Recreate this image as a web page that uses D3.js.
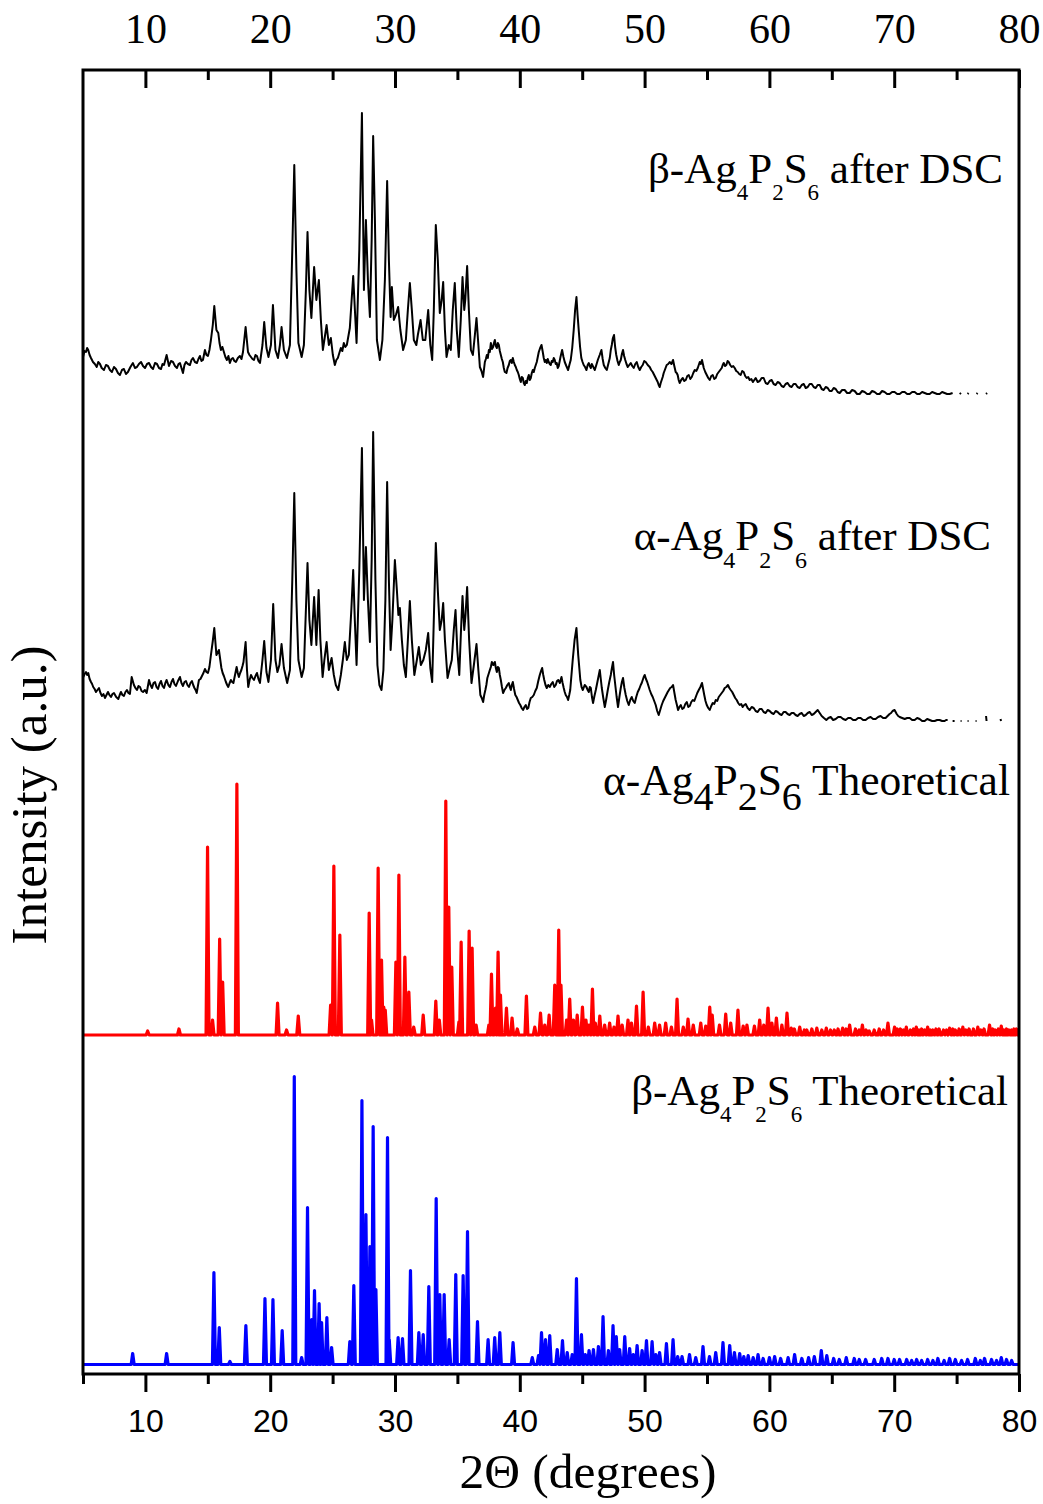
<!DOCTYPE html>
<html>
<head>
<meta charset="utf-8">
<script src="https://cdn.jsdelivr.net/npm/d3@7"></script>
<style>
  body { margin: 0; background: #fff; }
  svg { display: block; }
</style>
</head>
<body>
<svg id="chart" width="1043" height="1504"></svg>
<script>
// ---- axis ticks ----
const majorTicks = [10, 20, 30, 40, 50, 60, 70, 80];
const minorTicks = [5, 15, 25, 35, 45, 55, 65, 75];

// vertical offset (a.u.) that stacks each pattern
const stackOffsets = { betaTheo: 9.5, alphaTheo: 339, alphaDsc: 649, betaDsc: 979 };

// ---- measured pattern: beta-Ag4P2S6 after DSC  [2theta, intensity]  (null = no data) ----
const betaDsc = [
[5.00,38],[5.12,44],[5.24,43],[5.33,47],[5.42,45],[5.53,40],[5.64,37],[5.72,35],[5.80,33],[5.95,31],[6.10,28],[6.22,33],[6.36,31],[6.50,27],[6.68,25],[6.84,30],[7.00,29],[7.16,25],[7.32,23],[7.48,28],[7.64,26],[7.80,22],[7.96,20],[8.12,25],[8.28,26],[8.44,21],[8.60,23],[8.80,28],[9.00,32],[9.16,27],[9.32,28],[9.48,31],[9.65,33],[9.81,29],[9.97,27],[10.13,31],[10.29,32],[10.45,28],[10.61,26],[10.77,32],[10.93,31],[11.09,27],[11.25,26],[11.37,31],[11.49,30],[11.70,40],[11.89,29],[12.05,34],[12.21,33],[12.37,29],[12.53,27],[12.65,31],[12.77,32],[13.01,22],[13.13,30],[13.25,33],[13.41,31],[13.57,30],[13.69,35],[13.81,37],[13.97,33],[14.13,32],[14.25,36],[14.37,39],[14.49,34],[14.61,35],[14.77,45],[14.89,40],[15.01,39],[15.13,45],[15.25,55],[15.40,70],[15.52,89],[15.69,65],[15.84,62],[15.94,52],[16.05,45],[16.17,48],[16.29,43],[16.41,38],[16.53,35],[16.65,39],[16.77,32],[16.89,36],[17.01,37],[17.13,34],[17.25,33],[17.41,37],[17.57,39],[17.70,36],[17.82,43],[18.03,68],[18.22,43],[18.34,40],[18.46,38],[18.58,36],[18.70,35],[18.82,40],[18.94,39],[19.06,34],[19.18,32],[19.38,50],[19.52,73],[19.70,47],[19.86,38],[20.06,50],[20.22,90],[20.42,45],[20.62,37],[20.78,50],[20.91,68],[21.10,45],[21.34,37],[21.58,50],[21.77,145],[21.93,230],[22.10,125],[22.26,52],[22.52,38],[22.70,50],[22.86,105],[22.99,163],[23.14,105],[23.30,77],[23.52,128],[23.70,95],[23.90,115],[24.06,75],[24.22,45],[24.52,70],[24.70,50],[24.86,57],[25.02,40],[25.18,30],[25.30,35],[25.42,37],[25.54,42],[25.66,47],[25.78,44],[25.90,52],[26.02,48],[26.14,50],[26.38,67],[26.65,119],[26.92,52],[27.14,145],[27.35,282],[27.51,105],[27.67,175],[27.83,115],[27.99,78],[28.13,155],[28.25,259],[28.39,175],[28.55,55],[28.79,35],[28.99,55],[29.19,115],[29.37,214],[29.51,135],[29.65,78],[29.75,108],[29.91,75],[30.07,80],[30.25,88],[30.43,65],[30.65,45],[30.87,55],[31.03,85],[31.19,112],[31.35,85],[31.51,55],[31.71,50],[31.83,60],[32.05,75],[32.23,55],[32.43,55],[32.66,85],[32.83,50],[32.98,35],[33.11,85],[33.27,170],[33.43,135],[33.59,82],[33.74,95],[33.86,113],[34.00,65],[34.13,38],[34.31,50],[34.47,45],[34.63,85],[34.79,112],[34.95,65],[35.11,38],[35.27,75],[35.41,118],[35.55,85],[35.63,95],[35.78,129],[35.92,85],[36.08,45],[36.24,40],[36.40,60],[36.53,77],[36.68,50],[36.80,28],[36.93,24],[37.06,18],[37.20,33],[37.28,36],[37.36,40],[37.44,37],[37.52,45],[37.60,43],[37.68,52],[37.77,46],[37.86,48],[37.93,52],[38.00,55],[38.08,49],[38.16,47],[38.24,52],[38.32,50],[38.40,44],[38.48,40],[38.56,36],[38.64,33],[38.72,27],[38.80,23],[38.93,22],[39.02,27],[39.12,30],[39.20,34],[39.28,35],[39.36,32],[39.44,37],[39.52,33],[39.60,30],[39.68,28],[39.76,25],[39.84,23],[39.92,20],[40.00,16],[40.08,13],[40.16,18],[40.24,17],[40.32,12],[40.40,10],[40.48,14],[40.56,12],[40.64,17],[40.72,20],[40.80,15],[40.88,17],[40.96,22],[41.04,25],[41.12,23],[41.20,27],[41.28,30],[41.36,33],[41.44,38],[41.52,43],[41.63,47],[41.74,50],[41.84,43],[41.92,37],[42.00,33],[42.08,35],[42.16,32],[42.24,36],[42.32,33],[42.40,31],[42.48,30],[42.56,34],[42.64,33],[42.72,37],[42.80,35],[42.88,31],[42.96,32],[43.04,27],[43.12,29],[43.26,38],[43.39,45],[43.50,38],[43.60,33],[43.73,29],[43.87,25],[43.97,30],[44.08,35],[44.20,47],[44.32,65],[44.43,85],[44.54,98],[44.63,80],[44.72,65],[44.83,48],[44.93,37],[45.03,33],[45.12,30],[45.23,28],[45.34,25],[45.44,30],[45.53,32],[45.61,29],[45.69,27],[45.77,31],[45.85,29],[45.93,27],[46.01,25],[46.13,30],[46.25,35],[46.40,40],[46.54,45],[46.64,36],[46.73,30],[46.85,27],[46.97,25],[47.09,31],[47.21,37],[47.29,45],[47.37,50],[47.46,57],[47.55,60],[47.64,48],[47.73,40],[47.83,34],[47.93,30],[48.01,33],[48.09,35],[48.18,41],[48.27,45],[48.36,39],[48.45,35],[48.55,31],[48.65,28],[48.77,30],[48.89,32],[49.01,29],[49.13,27],[49.25,31],[49.37,33],[49.49,28],[49.61,25],[49.73,28],[49.85,30],[49.97,34],[50.09,33],[50.25,30],[50.41,28],[50.53,25],[50.65,23],[50.77,20],[50.89,17],[50.97,15],[51.05,13],[51.13,10],[51.21,8],[51.29,12],[51.37,15],[51.45,18],[51.53,22],[51.65,26],[51.77,30],[51.89,31],[52.01,33],[52.15,31],[52.28,35],[52.38,29],[52.49,23],[52.57,22],[52.65,20],[52.73,15],[52.81,12],[52.93,15],[53.06,17],[53.18,14],[53.30,15],[53.42,19],[53.54,20],[53.66,16],[53.78,18],[53.90,22],[54.02,25],[54.14,24],[54.26,27],[54.34,30],[54.42,33],[54.51,31],[54.60,35],[54.67,31],[54.74,27],[54.86,23],[54.98,20],[55.10,17],[55.22,15],[55.34,19],[55.46,20],[55.58,16],[55.70,17],[55.82,21],[55.94,23],[56.06,25],[56.18,27],[56.26,30],[56.34,32],[56.45,29],[56.55,30],[56.65,34],[56.74,33],[56.86,30],[56.98,28],[57.10,29],[57.22,27],[57.34,24],[57.46,23],[57.58,21],[57.70,20],[57.82,24],[57.94,23],[58.06,19],[58.18,17],[58.30,18],[58.42,15],[58.55,16],[58.68,13],[58.79,15],[58.90,17],[59.06,13],[59.22,14],[59.38,17],[59.54,17],[59.70,12],[59.86,11],[60.02,14],[60.18,15],[60.34,11],[60.50,10],[60.66,13],[60.82,12],[60.98,9],[61.14,8],[61.30,11],[61.46,12],[61.62,9],[61.78,8],[61.94,11],[62.10,11],[62.26,8],[62.43,7],[62.59,10],[62.75,11],[62.91,7],[63.07,8],[63.23,11],[63.39,11],[63.55,8],[63.71,7],[63.87,10],[64.03,10],[64.19,6],[64.35,5],[64.51,8],[64.67,7],[64.83,4],[64.99,4],[65.15,7],[65.31,6],[65.47,3],[65.63,2],[65.83,5],[66.03,5],[66.23,2],[66.43,2],[66.63,5],[66.83,4],[67.03,1],[67.23,1],[67.43,4],[67.63,3],[67.83,1],[68.03,1],[68.23,4],[68.43,3],[68.63,1],[68.83,1],[69.03,4],[69.23,3],[69.43,1],[69.63,1],[69.83,3],[70.03,3],[70.24,1],[70.44,1],[70.64,3],[70.84,3],[71.04,1],[71.24,1],[71.44,3],[71.64,3],[71.84,1],[72.04,1],[72.24,3],[72.44,2],[72.64,1],[72.84,1],[73.04,3],[73.24,2],[73.44,1],[73.64,1],[73.84,3],[74.04,2],[74.24,1],[74.44,1],[74.68,2],
[74.9,null],[75.24,1],[75.36,2],[75.5,null],[75.88,1],[75.96,2],[76.2,null],[76.60,1],[76.68,2],[77.0,null],[77.36,1],[77.44,2]
];

// ---- measured pattern: alpha-Ag4P2S6 after DSC ----
const alphaDsc = [
[5.02,48],[5.13,51],[5.24,53],[5.33,50],[5.42,52],[5.53,46],[5.64,43],[5.73,41],[5.82,38],[5.93,36],[6.04,33],[6.16,35],[6.28,37],[6.40,32],[6.52,29],[6.64,31],[6.76,27],[6.88,30],[7.00,33],[7.12,30],[7.24,28],[7.36,31],[7.48,32],[7.66,28],[7.83,26],[7.94,30],[8.04,33],[8.16,30],[8.28,29],[8.40,33],[8.52,35],[8.64,32],[8.76,31],[8.90,48],[9.08,40],[9.20,37],[9.32,35],[9.45,39],[9.57,38],[9.69,34],[9.81,33],[9.96,35],[10.10,32],[10.29,45],[10.41,40],[10.53,37],[10.65,42],[10.77,43],[10.89,38],[11.01,36],[11.13,41],[11.25,44],[11.37,39],[11.49,37],[11.60,42],[11.70,45],[11.84,40],[11.97,38],[12.09,43],[12.21,46],[12.33,41],[12.45,39],[12.61,44],[12.77,48],[12.89,42],[13.01,39],[13.13,43],[13.25,44],[13.37,40],[13.49,38],[13.61,42],[13.73,44],[13.83,40],[13.93,37],[14.02,35],[14.11,32],[14.29,45],[14.41,46],[14.53,49],[14.65,52],[14.77,56],[14.89,53],[15.01,52],[15.13,58],[15.25,70],[15.40,84],[15.52,97],[15.69,70],[15.89,75],[16.09,57],[16.19,52],[16.29,49],[16.37,46],[16.45,43],[16.55,40],[16.64,38],[16.75,42],[16.85,45],[16.95,43],[17.05,42],[17.18,50],[17.31,58],[17.40,52],[17.49,48],[17.59,52],[17.69,55],[17.78,59],[17.86,63],[18.03,83],[18.14,55],[18.24,38],[18.35,45],[18.46,50],[18.58,47],[18.70,45],[18.82,49],[18.94,52],[19.06,46],[19.18,42],[19.38,65],[19.52,84],[19.70,53],[19.86,43],[20.06,65],[20.24,121],[20.42,65],[20.58,53],[20.74,60],[20.91,81],[21.10,57],[21.36,42],[21.58,55],[21.77,145],[21.93,232],[22.10,125],[22.26,65],[22.52,48],[22.70,57],[22.86,115],[22.99,162],[23.14,105],[23.30,80],[23.52,128],[23.70,80],[23.88,135],[24.02,85],[24.20,48],[24.34,65],[24.52,83],[24.70,55],[24.92,67],[25.10,50],[25.26,40],[25.45,35],[25.66,50],[25.82,65],[25.98,83],[26.14,65],[26.30,70],[26.50,115],[26.65,155],[26.78,105],[26.92,60],[27.14,155],[27.35,277],[27.51,125],[27.67,178],[27.83,125],[27.99,83],[28.13,165],[28.25,293],[28.43,145],[28.59,60],[28.75,40],[28.92,35],[29.07,55],[29.23,125],[29.37,243],[29.51,145],[29.65,75],[29.79,105],[29.99,165],[30.15,135],[30.27,110],[30.39,117],[30.55,85],[30.71,60],[30.87,48],[31.03,85],[31.19,124],[31.35,85],[31.55,50],[31.75,65],[31.91,78],[32.07,60],[32.27,65],[32.47,75],[32.66,92],[32.83,57],[32.98,43],[33.13,115],[33.27,182],[33.43,135],[33.59,95],[33.74,105],[33.86,122],[34.00,85],[34.21,47],[34.39,57],[34.55,65],[34.71,95],[34.85,115],[34.99,75],[35.15,50],[35.29,95],[35.41,129],[35.55,95],[35.65,110],[35.78,138],[35.94,85],[36.13,42],[36.32,60],[36.53,81],[36.68,55],[36.84,30],[36.95,27],[37.06,23],[37.15,30],[37.24,35],[37.32,40],[37.40,47],[37.50,51],[37.60,55],[37.68,58],[37.76,63],[37.88,60],[38.00,63],[38.08,57],[38.16,53],[38.24,58],[38.32,57],[38.40,50],[38.48,45],[38.57,38],[38.66,32],[38.77,35],[38.88,37],[39.00,40],[39.12,42],[39.20,38],[39.28,35],[39.36,40],[39.44,43],[39.54,36],[39.64,30],[39.74,28],[39.84,25],[39.94,22],[40.04,20],[40.15,17],[40.26,15],[40.37,18],[40.48,20],[40.58,16],[40.68,17],[40.78,23],[40.88,27],[41.00,28],[41.12,30],[41.24,34],[41.36,37],[41.48,44],[41.60,50],[41.70,54],[41.79,57],[41.88,50],[41.96,45],[42.06,40],[42.16,37],[42.28,40],[42.40,38],[42.52,41],[42.64,43],[42.76,38],[42.88,40],[42.98,44],[43.08,45],[43.21,42],[43.34,48],[43.43,42],[43.52,37],[43.60,33],[43.68,30],[43.78,28],[43.87,25],[43.96,30],[44.04,35],[44.14,50],[44.24,65],[44.39,85],[44.54,97],[44.68,70],[44.85,45],[44.95,38],[45.05,35],[45.20,40],[45.34,38],[45.44,35],[45.53,33],[45.61,38],[45.69,37],[45.78,28],[45.87,22],[45.98,29],[46.09,35],[46.17,40],[46.25,45],[46.33,50],[46.41,55],[46.49,46],[46.57,37],[46.69,27],[46.81,18],[46.93,26],[47.05,35],[47.17,43],[47.29,50],[47.38,57],[47.47,63],[47.56,50],[47.65,40],[47.76,28],[47.87,18],[47.98,28],[48.09,37],[48.18,43],[48.27,47],[48.38,37],[48.49,30],[48.61,24],[48.73,20],[48.85,25],[48.97,28],[49.09,24],[49.21,22],[49.33,28],[49.45,33],[49.57,36],[49.69,40],[49.77,42],[49.85,45],[49.93,48],[50.01,50],[50.11,46],[50.21,43],[50.31,39],[50.41,35],[50.53,31],[50.65,28],[50.77,24],[50.89,20],[51.01,14],[51.13,10],[51.25,15],[51.37,20],[51.49,24],[51.61,27],[51.73,30],[51.85,33],[51.95,35],[52.05,37],[52.17,38],[52.28,40],[52.39,32],[52.49,25],[52.59,20],[52.68,15],[52.79,18],[52.90,20],[53.02,16],[53.14,17],[53.26,21],[53.38,23],[53.50,18],[53.62,19],[53.74,23],[53.86,25],[53.98,24],[54.10,28],[54.22,32],[54.34,35],[54.47,38],[54.60,42],[54.69,36],[54.78,30],[54.88,24],[54.98,20],[55.10,17],[55.22,15],[55.34,19],[55.46,22],[55.58,21],[55.70,25],[55.82,24],[55.94,28],[56.06,30],[56.18,32],[56.30,34],[56.42,37],[56.55,38],[56.68,40],[56.79,37],[56.90,35],[57.02,33],[57.14,30],[57.26,27],[57.38,25],[57.50,22],[57.62,20],[57.74,21],[57.86,18],[57.98,20],[58.10,21],[58.26,17],[58.42,15],[58.58,18],[58.74,17],[58.90,14],[59.06,13],[59.22,16],[59.38,16],[59.54,13],[59.70,12],[59.86,15],[60.02,14],[60.18,12],[60.34,11],[60.50,14],[60.66,13],[60.82,11],[60.98,10],[61.14,13],[61.30,13],[61.46,11],[61.62,10],[61.78,12],[61.94,12],[62.10,10],[62.26,9],[62.42,11],[62.59,12],[62.75,9],[62.91,10],[63.07,12],[63.23,13],[63.39,10],[63.55,11],[63.71,13],[63.87,15],[64.03,12],[64.19,9],[64.37,7],[64.56,5],[64.73,7],[64.91,8],[65.11,5],[65.31,6],[65.51,8],[65.71,8],[65.91,6],[66.11,5],[66.31,7],[66.51,7],[66.71,5],[66.91,5],[67.11,7],[67.31,7],[67.51,5],[67.71,5],[67.91,7],[68.11,8],[68.31,6],[68.51,6],[68.71,8],[68.91,9],[69.11,7],[69.31,7],[69.47,9],[69.63,11],[69.75,12],[69.87,14],[70.03,15],[70.20,11],[70.32,9],[70.44,8],[70.64,7],[70.84,6],[71.04,7],[71.24,7],[71.44,5],[71.64,5],[71.84,7],[72.04,6],[72.24,4],[72.44,4],[72.64,6],[72.84,5],[73.04,4],[73.24,4],[73.44,5],[73.64,5],[73.84,4],[74.04,4],[74.16,5],[74.28,5],
[74.5,null],[74.68,4],[74.84,4],[75.1,null],[75.32,4],[75.40,4],[75.6,null],[75.88,4],[75.96,4],[76.3,null],[76.52,4],[76.60,4],[77.0,null],[77.36,9],[77.40,4],[78.0,null],[78.52,6],[78.56,4]
];

// ---- calculated pattern: alpha-Ag4P2S6, reflections [2theta, intensity] ----
const alphaTheoPeaks = [
[10.18,4],[12.69,6],[14.98,188],[15.38,15],[15.95,96],[16.19,53],[17.33,251],[20.59,32],[21.31,5],[22.25,19],[24.84,30],[25.10,169],[25.58,100],[27.93,122],[28.12,15],[28.65,167],[28.92,75],[29.10,28],[29.22,25],[30.07,73],[30.31,160],[30.79,78],[31.11,43],[31.50,8],[32.26,20],[33.27,34],[33.55,15],[34.07,234],[34.31,128],[34.55,68],[35.12,13],[35.30,93],[35.94,104],[36.18,87],[36.50,10],[37.52,10],[37.73,61],[38.05,27],[38.26,83],[38.45,40],[38.93,27],[39.38,17],[39.80,6],[40.53,39],[41.20,8],[41.66,22],[42.00,10],[42.35,20],[42.80,50],[43.12,105],[43.30,50],[43.75,15],[44.00,36],[44.30,15],[44.60,20],[45.02,28],[45.30,15],[45.55,10],[45.82,46],[46.05,12],[46.41,19],[46.80,10],[47.20,12],[47.55,8],[47.87,19],[48.20,10],[48.67,15],[48.95,12],[49.35,29],[49.88,43],[50.30,8],[50.81,12],[51.20,10],[51.69,12],[52.15,8],[52.60,36],[53.10,8],[53.48,16],[53.90,10],[54.50,12],[54.90,9],[55.22,28],[55.42,20],[56.00,10],[56.50,21],[56.90,12],[57.48,25],[57.90,9],[58.20,10],[58.80,9],[59.22,15],[59.55,10],[59.89,27],[60.20,12],[60.56,17],[61.00,10],[61.41,22],[61.75,7],[62.00,6],[62.43,8],[62.80,5],[63.00,5],[63.40,6],[63.80,7],[64.20,5],[64.56,7],[64.90,5],[65.20,5],[65.50,6],[65.87,7],[66.15,6],[66.43,10],[66.90,6],[67.20,5],[67.45,10],[67.75,5],[68.00,4],[68.40,5],[68.80,6],[69.15,5],[69.50,12],[70.03,8],[70.25,6],[70.50,6],[70.75,5],[70.97,8],[71.30,5],[71.55,6],[71.77,8],[72.00,5],[72.20,6],[72.45,5],[72.68,8],[72.90,5],[73.10,5],[73.35,6],[73.60,6],[73.95,5],[74.20,5],[74.44,7],[74.70,6],[74.90,5],[75.20,6],[75.50,8],[75.75,5],[76.00,6],[76.35,6],[76.70,8],[76.95,5],[77.20,6],[77.64,10],[77.90,6],[78.10,5],[78.35,6],[78.58,9],[78.80,5],[79.00,6],[79.20,5],[79.41,5],[79.60,6],[79.80,6]
];

// ---- calculated pattern: beta-Ag4P2S6, reflections [2theta, intensity] ----
const betaTheoPeaks = [
[8.98,11],[11.70,11],[15.49,92],[15.92,37],[16.77,3],[18.05,39],[19.58,66],[20.22,65],[20.96,34],[21.93,288],[22.52,7],[22.99,157],[23.32,45],[23.55,74],[23.92,61],[24.12,42],[24.54,47],[24.92,17],[26.38,23],[26.70,79],[27.35,264],[27.50,40],[27.67,150],[27.83,60],[27.99,118],[28.25,238],[28.47,75],[29.40,227],[29.54,25],[30.25,27],[30.60,26],[31.24,94],[31.91,32],[32.26,30],[32.71,78],[33.30,166],[33.59,70],[33.94,70],[34.34,25],[34.87,90],[35.46,89],[35.81,133],[36.61,43],[37.46,25],[37.99,27],[38.40,32],[39.46,22],[41.00,7],[41.50,9],[41.74,32],[42.06,25],[42.40,29],[43.00,15],[43.42,24],[43.80,12],[44.20,10],[44.54,86],[44.94,30],[45.25,10],[45.55,14],[45.90,15],[46.30,18],[46.67,48],[47.10,14],[47.47,39],[47.73,28],[48.00,15],[48.41,28],[48.80,16],[49.10,10],[49.40,19],[49.80,14],[50.15,24],[50.60,23],[50.90,10],[51.20,12],[51.75,21],[52.28,25],[52.65,8],[53.00,8],[53.60,10],[54.10,7],[54.68,18],[55.20,8],[55.70,12],[56.28,22],[56.82,19],[57.20,12],[57.62,11],[57.95,8],[58.30,9],[58.70,7],[59.09,10],[59.50,6],[60.00,7],[60.42,8],[60.90,6],[61.50,7],[62.02,10],[62.60,6],[63.14,7],[63.60,8],[64.16,14],[64.60,9],[65.15,6],[65.60,5],[66.16,7],[66.80,6],[67.20,5],[67.71,5],[68.40,5],[69.00,6],[69.50,6],[70.00,5],[70.43,5],[71.00,5],[71.40,4],[71.80,5],[72.20,4],[72.68,5],[73.10,4],[73.50,6],[74.00,4],[74.44,6],[74.90,5],[75.40,4],[75.88,5],[76.50,6],[76.90,4],[77.24,6],[77.80,5],[78.20,4],[78.58,7],[79.00,5],[79.41,4]
];

// ---- panel captions: [text, isSubscript] ----
const captionBetaDsc   = [["β-Ag",0],["4",1],["P",0],["2",1],["S",0],["6",1],[" after DSC",0]];
const captionAlphaDsc  = [["α-Ag",0],["4",1],["P",0],["2",1],["S",0],["6",1],[" after DSC",0]];
const captionAlphaTheo = [["α-Ag",0],["4",1],["P",0],["2",1],["S",0],["6",1],[" Theoretical",0]];
const captionBetaTheo  = [["β-Ag",0],["4",1],["P",0],["2",1],["S",0],["6",1],[" Theoretical",0]];

const xTitle = "2Θ (degrees)";
const yTitle = "Intensity (a.u.)";

// ================= drawing =================
const svg = d3.select("#chart");
const SERIF = "'Liberation Serif','Times New Roman',serif";
const SANS = "'Liberation Sans',Arial,sans-serif";

const plot = { left: 83, right: 1019, top: 70, bottom: 1374 };
const x = d3.scaleLinear().domain([5, 80]).range([plot.left, plot.right]);
const y = d3.scaleLinear().domain([0, 1304]).range([plot.bottom, plot.top]);

svg.append("rect").attr("width", 1043).attr("height", 1504).attr("fill", "#fff");

svg.append("defs").append("clipPath").attr("id", "plotClip")
  .append("rect").attr("x", plot.left).attr("y", plot.top - 2)
  .attr("width", plot.right - plot.left).attr("height", plot.bottom - plot.top);

function lineFor(offset) {
  return d3.line()
    .defined(d => d[1] != null)
    .x(d => x(d[0]))
    .y(d => y(d[1] + offset));
}

// calculated reflections drawn as narrow spikes on a flat baseline
function spikeSeries(peaks, halfWidth) {
  const pts = [[5, 0]];
  peaks.slice().sort((a, b) => a[0] - b[0]).forEach(p => {
    pts.push([p[0] - halfWidth, 0], [p[0], p[1]], [p[0] + halfWidth, 0]);
  });
  pts.push([80, 0]);
  return pts;
}

const g = svg.append("g").attr("clip-path", "url(#plotClip)");

g.append("path").datum(spikeSeries(betaTheoPeaks, 0.12))
  .attr("d", lineFor(stackOffsets.betaTheo))
  .attr("fill", "none").attr("stroke", "#0000ff").attr("stroke-width", 3.2)
  .attr("stroke-linejoin", "round").attr("stroke-linecap", "round");

g.append("path").datum(spikeSeries(alphaTheoPeaks, 0.12))
  .attr("d", lineFor(stackOffsets.alphaTheo))
  .attr("fill", "none").attr("stroke", "#ff0000").attr("stroke-width", 3.2)
  .attr("stroke-linejoin", "round").attr("stroke-linecap", "round");

g.append("path").datum(alphaDsc)
  .attr("d", lineFor(stackOffsets.alphaDsc))
  .attr("fill", "none").attr("stroke", "#000").attr("stroke-width", 2)
  .attr("stroke-linejoin", "round");

g.append("path").datum(betaDsc)
  .attr("d", lineFor(stackOffsets.betaDsc))
  .attr("fill", "none").attr("stroke", "#000").attr("stroke-width", 2)
  .attr("stroke-linejoin", "round");

// ---- axes ----
function styleAxis(sel) {
  sel.select(".domain").remove();
  sel.selectAll(".tick line").attr("stroke", "#000").attr("stroke-width", 3);
}

svg.append("g").attr("transform", `translate(0,${plot.bottom})`)
  .call(d3.axisBottom(x).tickValues(majorTicks).tickSize(18).tickPadding(17)
    .tickFormat(d3.format("d")))
  .call(styleAxis)
  .call(s => s.selectAll("text").attr("font-family", SANS).attr("font-size", 32).attr("fill", "#000"));

svg.append("g").attr("transform", `translate(0,${plot.bottom})`)
  .call(d3.axisBottom(x).tickValues(minorTicks).tickSize(10).tickFormat(""))
  .call(styleAxis);

svg.append("g").attr("transform", `translate(0,${plot.top})`)
  .call(d3.axisTop(x).tickValues(majorTicks).tickSize(-18).tickPadding(27)
    .tickFormat(d3.format("d")))
  .call(styleAxis)
  .call(s => s.selectAll("text").attr("font-family", SERIF).attr("font-size", 42).attr("fill", "#000"));

svg.append("g").attr("transform", `translate(0,${plot.top})`)
  .call(d3.axisTop(x).tickValues(minorTicks.filter(t => t > 5)).tickSize(-10).tickFormat(""))
  .call(styleAxis);

svg.append("rect")
  .attr("x", plot.left).attr("y", plot.top)
  .attr("width", plot.right - plot.left).attr("height", plot.bottom - plot.top)
  .attr("fill", "none").attr("stroke", "#000").attr("stroke-width", 3);

// ---- axis titles ----
svg.append("text").attr("x", 588).attr("y", 1488)
  .attr("text-anchor", "middle").attr("font-family", SERIF).attr("font-size", 49.5)
  .text(xTitle);

svg.append("text").attr("transform", "translate(46,795) rotate(-90)")
  .attr("text-anchor", "middle").attr("font-family", SERIF).attr("font-size", 51)
  .text(yTitle);

// ---- panel captions with chemical subscripts ----
function caption(parts, xEnd, yBase, size, subSize, subDrop) {
  const t = svg.append("text").attr("x", xEnd).attr("y", yBase)
    .attr("text-anchor", "end").attr("font-family", SERIF).attr("font-size", size);
  let down = false;
  parts.forEach(([txt, sub]) => {
    const ts = t.append("tspan").text(txt);
    if (sub && !down) { ts.attr("dy", subDrop); down = true; }
    else if (!sub && down) { ts.attr("dy", -subDrop); down = false; }
    if (sub) ts.attr("font-size", subSize);
  });
}

caption(captionBetaDsc, 1003, 183, 43, 23, 17);
caption(captionAlphaDsc, 991, 550, 43, 24, 18);
caption(captionAlphaTheo, 1010, 795, 43.5, 40, 15);
caption(captionBetaTheo, 1008, 1105, 43, 23, 17);
</script>
</body>
</html>
